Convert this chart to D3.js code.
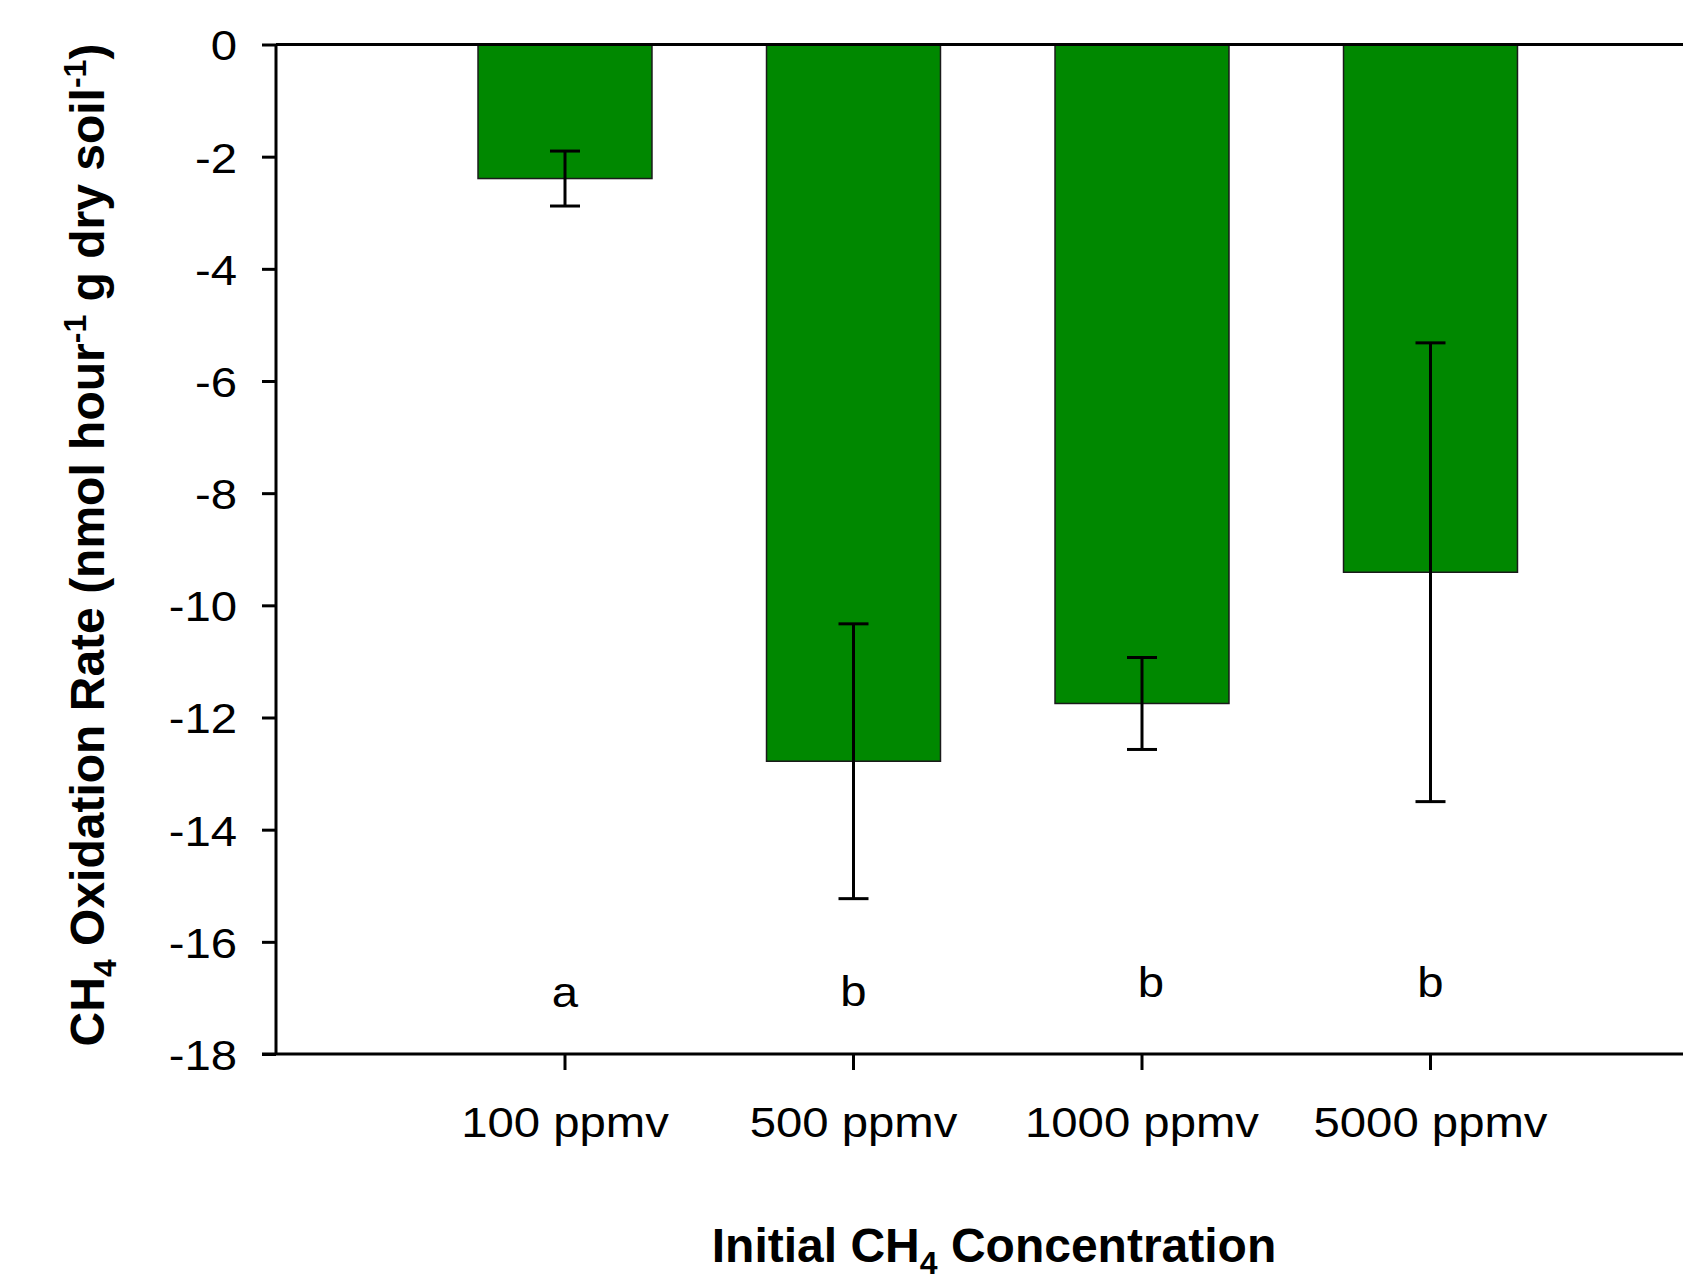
<!DOCTYPE html>
<html>
<head>
<meta charset="utf-8">
<script src="https://cdn.jsdelivr.net/npm/d3@7"></script>
<style>
  html, body { margin: 0; padding: 0; background: #fff; }
  svg { display: block; }
  text { font-family: "Liberation Sans", Arial, Helvetica, sans-serif; fill: #000; }
</style>
</head>
<body>
<svg id="chart" width="1683" height="1285"></svg>
<script>
// ---- data ----
const categories = ["100 ppmv", "500 ppmv", "1000 ppmv", "5000 ppmv"];
const rates = [-2.39, -12.78, -11.75, -9.41];
const errors = [0.49, 2.45, 0.82, 4.09];
const letters = ["a", "b", "b", "b"];
const yTicks = [0, -2, -4, -6, -8, -10, -12, -14, -16, -18];

// ---- layout ----
const W = 1683, H = 1285;
const axisX = 276, yTop = 44.5, yBot = 1054;
const letterY = [-17.17, -17.14, -16.98, -16.98];   // annotation baselines (data units)
const letterDx = [0, 0, 9, 0];
const labelScale = 1.1, tickFont = 43;

const svg = d3.select("#chart");

const x = d3.scaleBand()
  .domain(categories)
  .range([420.75, 1574.75])
  .paddingInner(0.397)
  .paddingOuter(0.397 / 2);

const y = d3.scaleLinear().domain([-18, 0]).range([yBot, yTop]);

const data = categories.map((c, i) => ({ c, v: rates[i], e: errors[i], l: letters[i], ly: letterY[i], dx: letterDx[i] }));

// bars
svg.append("g").selectAll("rect").data(data).join("rect")
  .attr("x", d => x(d.c))
  .attr("width", x.bandwidth())
  .attr("y", y(0))
  .attr("height", d => y(d.v) - y(0))
  .attr("fill", "#008800")
  .attr("stroke", "#1a1a1a")
  .attr("stroke-width", 1.5);

// error bars
const cx = d => x(d.c) + x.bandwidth() / 2;
const eb = svg.append("g").attr("stroke", "#000").attr("stroke-width", 3);
eb.selectAll("line.v").data(data).join("line").attr("class", "v")
  .attr("x1", cx).attr("x2", cx)
  .attr("y1", d => y(d.v + d.e)).attr("y2", d => y(d.v - d.e));
eb.selectAll("line.t").data(data).join("line").attr("class", "t")
  .attr("x1", d => cx(d) - 15).attr("x2", d => cx(d) + 15)
  .attr("y1", d => y(d.v + d.e)).attr("y2", d => y(d.v + d.e));
eb.selectAll("line.b").data(data).join("line").attr("class", "b")
  .attr("x1", d => cx(d) - 15).attr("x2", d => cx(d) + 15)
  .attr("y1", d => y(d.v - d.e)).attr("y2", d => y(d.v - d.e));

// top frame line (zero line), continues to right edge
svg.append("line")
  .attr("x1", axisX).attr("x2", W + 5)
  .attr("y1", y(0)).attr("y2", y(0))
  .attr("stroke", "#000").attr("stroke-width", 3);

// y axis
const yAxis = d3.axisLeft(y).tickValues(yTicks).tickSize(14).tickPadding(25)
  .tickFormat(d => String(d));
const gy = svg.append("g").attr("transform", `translate(${axisX},0)`).call(yAxis);
gy.select(".domain").attr("stroke-width", 3).attr("d", `M0,${yTop}V${yBot}`);
gy.selectAll(".tick line").attr("stroke-width", 3);
gy.selectAll(".tick text")
  .attr("font-size", tickFont)
  .attr("font-family", "Liberation Sans, Arial, sans-serif")
  .attr("x", -39 / labelScale)
  .attr("dy", "0.36em")
  .attr("transform", `scale(${labelScale},1)`);

// x axis
const xAxis = d3.axisBottom(x).tickSize(16).tickPadding(0);
const gx = svg.append("g").attr("transform", `translate(0,${yBot})`).call(xAxis);
gx.select(".domain").attr("stroke-width", 3).attr("d", `M${axisX - 14},0H${W + 5}`);
gx.selectAll(".tick line").attr("stroke-width", 3);
gx.selectAll(".tick text")
  .attr("font-size", tickFont)
  .attr("font-family", "Liberation Sans, Arial, sans-serif")
  .attr("y", 83).attr("dy", 0)
  .attr("transform", `scale(${labelScale},1)`);

// letters
svg.append("g").selectAll("text").data(data).join("text")
  .attr("transform", `scale(${labelScale},1)`)
  .attr("x", d => (cx(d) + d.dx) / labelScale)
  .attr("y", d => y(d.ly))
  .attr("text-anchor", "middle")
  .attr("font-size", tickFont)
  .text(d => d.l);

// x title
const xt = svg.append("text")
  .attr("x", 994).attr("y", 1262)
  .attr("text-anchor", "middle")
  .attr("font-size", 48).attr("font-weight", "bold");
xt.append("tspan").text("Initial CH");
xt.append("tspan").attr("font-size", 32).attr("dy", 12).text("4");
xt.append("tspan").attr("dy", -12).text(" Concentration");

// y title
const yt = svg.append("text")
  .attr("transform", `translate(104,545) rotate(-90)`)
  .attr("text-anchor", "middle")
  .attr("font-size", 48).attr("font-weight", "bold");
yt.append("tspan").text("CH");
yt.append("tspan").attr("font-size", 32).attr("dy", 12).text("4");
yt.append("tspan").attr("dy", -12).text(" Oxidation Rate (nmol hour");
yt.append("tspan").attr("font-size", 32).attr("dy", -18).text("-1");
yt.append("tspan").attr("dy", 18).text(" g dry soil");
yt.append("tspan").attr("font-size", 32).attr("dy", -18).text("-1");
yt.append("tspan").attr("dy", 18).text(")");
</script>
</body>
</html>
